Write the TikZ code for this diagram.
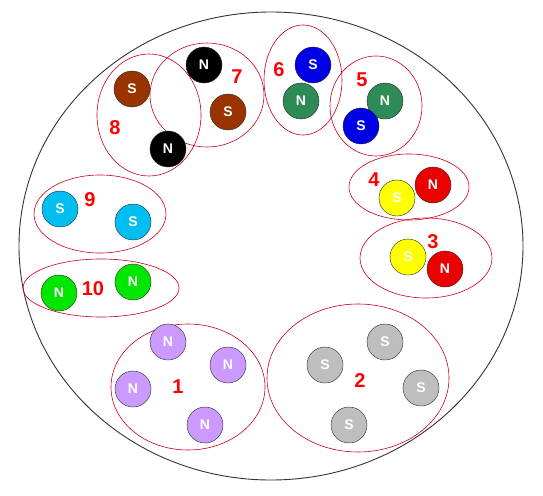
\documentclass[tikz,border=0pt]{standalone}
\usepackage{fontspec}
\setmainfont{Liberation Sans}
\usetikzlibrary{positioning}

\definecolor{magbrown}{RGB}{153,51,0}
\definecolor{magblue}{RGB}{0,0,230}
\definecolor{magsea}{RGB}{46,139,87}
\definecolor{magyellow}{RGB}{255,255,0}
\definecolor{magred}{RGB}{235,0,0}
\definecolor{magcyan}{RGB}{0,190,240}
\definecolor{maglime}{RGB}{0,230,0}
\definecolor{magviolet}{RGB}{204,153,255}
\definecolor{maggray}{RGB}{190,190,190}
\definecolor{ringred}{RGB}{200,0,30}

\tikzset{
  pole/.style={circle, draw=black!85, minimum size=36pt, inner sep=0pt,
    text=white, font=\fontsize{14}{14}\selectfont\bfseries},
  group/.style={draw=ringred, line width=0.6pt},
  num/.style={text=red, font=\fontsize{20}{20}\selectfont\bfseries}
}

\begin{document}
\begin{tikzpicture}[x=1pt, y=-1pt]
    \useasboundingbox (0,0) rectangle (543,495);

    % Outer boundary
    \draw[black!80, line width=0.9pt] (271,246) ellipse (252 and 234);

    % Groups
    \draw[group] (149,115) ellipse (52 and 61);  % 8
    \draw[group] (207,95) ellipse (57 and 52);   % 7
    \draw[group] (303,80) ellipse (39 and 55);   % 6
    \draw[group] (376,106) ellipse (46 and 50);  % 5
    \draw[group] (409,187) ellipse (60 and 33);  % 4
    \draw[group] (426,258) ellipse (66 and 40);  % 3
    \draw[group] (358,378) ellipse (91 and 74);  % 2
    \draw[group] (188,387) ellipse (77 and 63);  % 1
    \draw[group] (101,288) ellipse (78 and 29);  % 10
    \draw[group] (100,214) ellipse (66 and 39);  % 9

    % Magnets 7 and 8
    \node[pole, fill=black] (sevN) at (204,65) {N};
    \node[pole, fill=magbrown] (sevS) at (228,112) {S};
    \node[pole, fill=magbrown] (eigS) at (132,89) {S};
    \node[pole, fill=black] (eigN) at (168,149) {N};
    \node[num] (lab7) at (237,77) {7};
    \node[num] (lab8) at (115,128) {8};

    % Magnets 6 and 5
    \node[pole, fill=magblue] (sixS) at (313,65) {S};
    \node[pole, fill=magsea] (sixN) at (301,101) {N};
    \node[num] (lab6) at (279,70) {6};
    \node[pole, fill=magsea] (fivN) at (385,101) {N};
    \node[pole, fill=magblue] (fivS) at (361,126) {S};
    \node[num] (lab5) at (362,80) {5};

    % Magnets 4 and 3
    \node[pole, fill=magyellow] (fouS) at (397,198) {S};
    \node[pole, fill=magred] (fouN) at (433,185) {N};
    \node[num] (lab4) at (374,180) {4};
    \node[pole, fill=magyellow] (thrS) at (408,257) {S};
    \node[pole, fill=magred] (thrN) at (445,269) {N};
    \node[num] (lab3) at (433,242) {3};

    % Magnets 9 and 10
    \node[pole, fill=magcyan] (ninS1) at (60,209) {S};
    \node[pole, fill=magcyan] (ninS2) at (133,222) {S};
    \node[num] (lab9) at (90,200) {9};
    \node[pole, fill=maglime] (tenN1) at (59,293) {N};
    \node[pole, fill=maglime] (tenN2) at (133,282) {N};
    \node[num] (lab10) at (93,289) {10};

    % Group 1
    \node[pole, fill=magviolet] (oneA) at (168,342) {N};
    \node[pole, fill=magviolet] (oneB) at (228,365) {N};
    \node[pole, fill=magviolet] (oneC) at (133,389) {N};
    \node[pole, fill=magviolet] (oneD) at (205,425) {N};
    \node[num] (lab1) at (178,387) {1};

    % Group 2
    \node[pole, fill=maggray] (twoA) at (385,342) {S};
    \node[pole, fill=maggray] (twoB) at (325,365) {S};
    \node[pole, fill=maggray] (twoC) at (421,388) {S};
    \node[pole, fill=maggray] (twoD) at (349,425) {S};
    \node[num] (lab2) at (360,381) {2};
  \end{tikzpicture}
\end{document}
